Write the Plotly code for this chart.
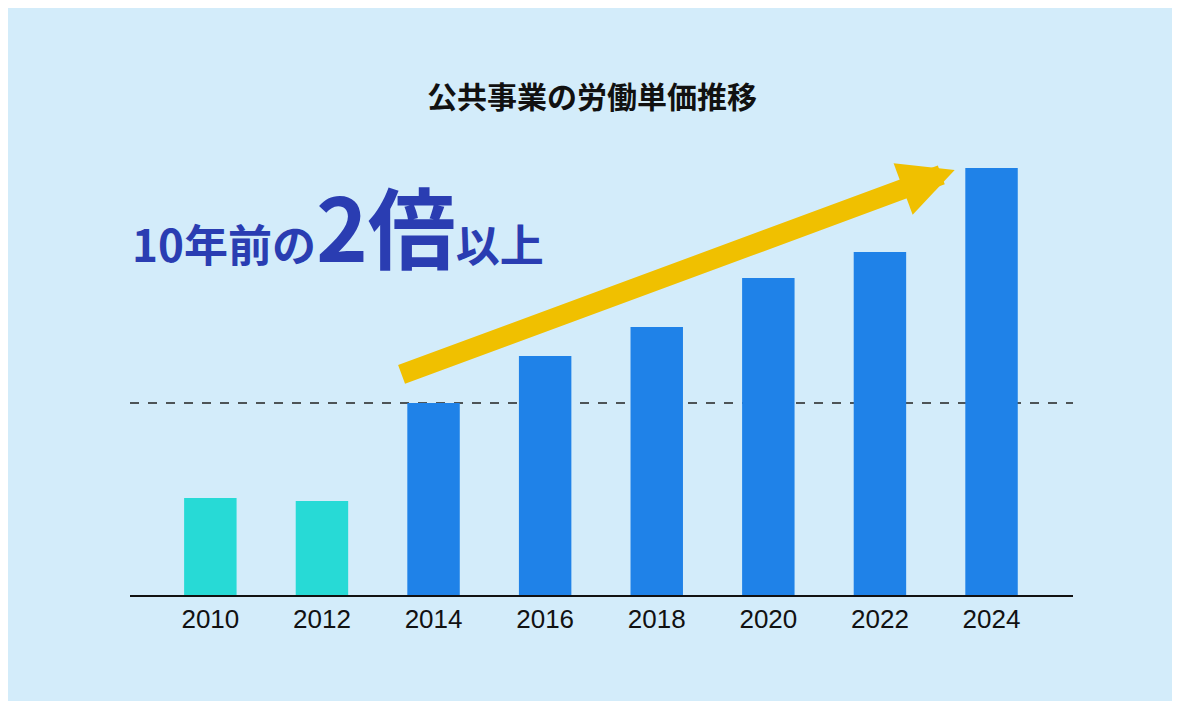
import plotly.graph_objects as go

years = ["2010", "2012", "2014", "2016", "2018", "2020", "2022", "2024"]
values = [97, 94, 192, 239, 268, 317, 343, 427]
colors = ["#27DAD6", "#27DAD6"] + ["#1F82E8"] * 6

fig = go.Figure(go.Bar(x=years, y=values, marker_color=colors, marker_line_width=0))

fig.add_shape(type="line", xref="paper", yref="y", x0=0, x1=1, y0=values[2], y1=values[2],
              line=dict(color="#222", width=1.5, dash="dash"), layer="below")

fig.add_annotation(x=6.67, y=425, ax=1.70, ay=220, xref="x", yref="y", axref="x", ayref="y",
                   text="", showarrow=True, arrowhead=2, arrowwidth=20, arrowsize=0.55,
                   arrowcolor="#F0C000", standoff=0)

fig.add_annotation(
    xref="paper", yref="paper", x=0.0, y=0.80, xanchor="left", yanchor="middle",
    text="<b>10年前の<span style='font-size:88px'>2倍</span>以上</b>", showarrow=False,
    font=dict(size=44, color="#2A3DB2", family="Noto Sans CJK JP"))

fig.update_layout(
    width=1180, height=701,
    paper_bgcolor="#D3ECFA", plot_bgcolor="#D3ECFA",
    margin=dict(l=122, r=115, t=122, b=114),
    title=dict(text="<b>公共事業の労働単価推移</b>", x=0.495, y=0.872, xanchor="center", yanchor="middle",
               font=dict(size=30, color="#111", family="Noto Sans CJK JP")),
    bargap=0.53, showlegend=False,
    font=dict(family="Noto Sans CJK JP"),
)
fig.update_xaxes(range=[-0.72, 7.73], showline=True, linecolor="#111", linewidth=1.5,
                 ticks="", tickfont=dict(size=26, color="#111", family="Liberation Sans"), showgrid=False)
fig.update_yaxes(range=[0, 465], visible=False)

fig.write_html("out.html")
